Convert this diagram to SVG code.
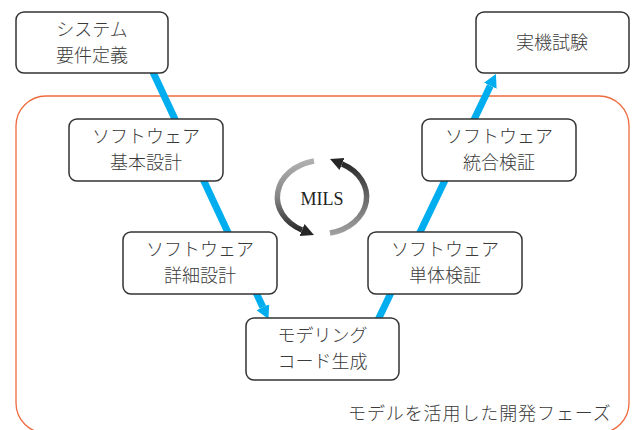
<svg xmlns="http://www.w3.org/2000/svg" width="635" height="430" viewBox="0 0 635 430">
  <style>
    .box { fill: #ffffff; stroke: #333333; stroke-width: 1.5; }
    .jp { font-family: "Liberation Serif", "Noto Sans CJK JP", serif; font-size: 18px; font-weight: 300; fill: #3a3a3a; text-anchor: middle; }
    .flow { fill: none; stroke: #00AEEF; stroke-width: 7; }
    .cycle { fill: none; stroke-width: 5.5; }
  </style>
  <defs>
    <marker id="blueHead" markerUnits="userSpaceOnUse" markerWidth="14" markerHeight="16" viewBox="0 -8 14 16" refX="0" refY="0" orient="auto">
      <path d="M0,-7 L13,0 L0,7 Z" fill="#00AEEF"/>
    </marker>
    <marker id="darkHead" markerUnits="userSpaceOnUse" markerWidth="14" markerHeight="14" viewBox="0 -7 14 14" refX="0" refY="0" orient="auto">
      <path d="M0,-6.5 L13,0 L0,6.5 Z" fill="#262626"/>
    </marker>
    <linearGradient id="gLeft" gradientUnits="userSpaceOnUse" x1="0" y1="160" x2="0" y2="232">
      <stop offset="0" stop-color="#b0b0b0"/>
      <stop offset="0.5" stop-color="#888888"/>
      <stop offset="1" stop-color="#262626"/>
    </linearGradient>
    <linearGradient id="gRight" gradientUnits="userSpaceOnUse" x1="0" y1="234" x2="0" y2="162">
      <stop offset="0" stop-color="#a0a0a0"/>
      <stop offset="0.5" stop-color="#6a6a6a"/>
      <stop offset="1" stop-color="#262626"/>
    </linearGradient>
  </defs>

  <rect x="0" y="0" width="635" height="430" fill="#ffffff"/>

  <g id="phase-frame">
    <rect x="16" y="96" width="613" height="337" rx="30" ry="30" fill="none" stroke="#EF6A3E" stroke-width="1.3"/>
    <text x="348" y="420" font-family="Liberation Serif, Noto Sans CJK JP, serif" font-size="18" font-weight="300" fill="#3a3a3a" letter-spacing="0.9">モデルを活用した開発フェーズ</text>
  </g>

  <g id="connectors">
    <line class="flow" x1="152" y1="70" x2="262.9" y2="307.2" marker-end="url(#blueHead)"/>
    <line class="flow" x1="377" y1="322" x2="490.3" y2="85.7" marker-end="url(#blueHead)"/>
  </g>

  <g id="mils">
    <path class="cycle" stroke="url(#gLeft)" d="M 314 161 A 46 37 0 0 0 302 230" marker-end="url(#darkHead)"/>
    <path class="cycle" stroke="url(#gRight)" d="M 330 233 A 46 37 0 0 0 342 164" marker-end="url(#darkHead)"/>
    <text x="322" y="205" font-family="Liberation Serif, serif" font-size="18" fill="#222222" text-anchor="middle">MILS</text>
  </g>

  <g id="node-system-req">
    <rect class="box" x="16" y="12" width="152" height="61" rx="8"/>
    <text class="jp" x="92" y="36">システム</text>
    <text class="jp" x="92" y="62">要件定義</text>
  </g>

  <g id="node-real-test">
    <rect class="box" x="476" y="12" width="153" height="61" rx="8"/>
    <text class="jp" x="552" y="49">実機試験</text>
  </g>

  <g id="node-basic-design">
    <rect class="box" x="69" y="119" width="154" height="62" rx="8"/>
    <text class="jp" x="146" y="143">ソフトウェア</text>
    <text class="jp" x="146" y="169">基本設計</text>
  </g>

  <g id="node-integration">
    <rect class="box" x="422" y="119" width="154" height="62" rx="8"/>
    <text class="jp" x="499" y="143">ソフトウェア</text>
    <text class="jp" x="499" y="169">統合検証</text>
  </g>

  <g id="node-detail-design">
    <rect class="box" x="123" y="232" width="154" height="62" rx="8"/>
    <text class="jp" x="200" y="256">ソフトウェア</text>
    <text class="jp" x="200" y="282">詳細設計</text>
  </g>

  <g id="node-unit-test">
    <rect class="box" x="368" y="232" width="154" height="62" rx="8"/>
    <text class="jp" x="445" y="256">ソフトウェア</text>
    <text class="jp" x="445" y="282">単体検証</text>
  </g>

  <g id="node-modeling">
    <rect class="box" x="246" y="318" width="153" height="62" rx="8"/>
    <text class="jp" x="322.5" y="342">モデリング</text>
    <text class="jp" x="322.5" y="368">コード生成</text>
  </g>
</svg>
